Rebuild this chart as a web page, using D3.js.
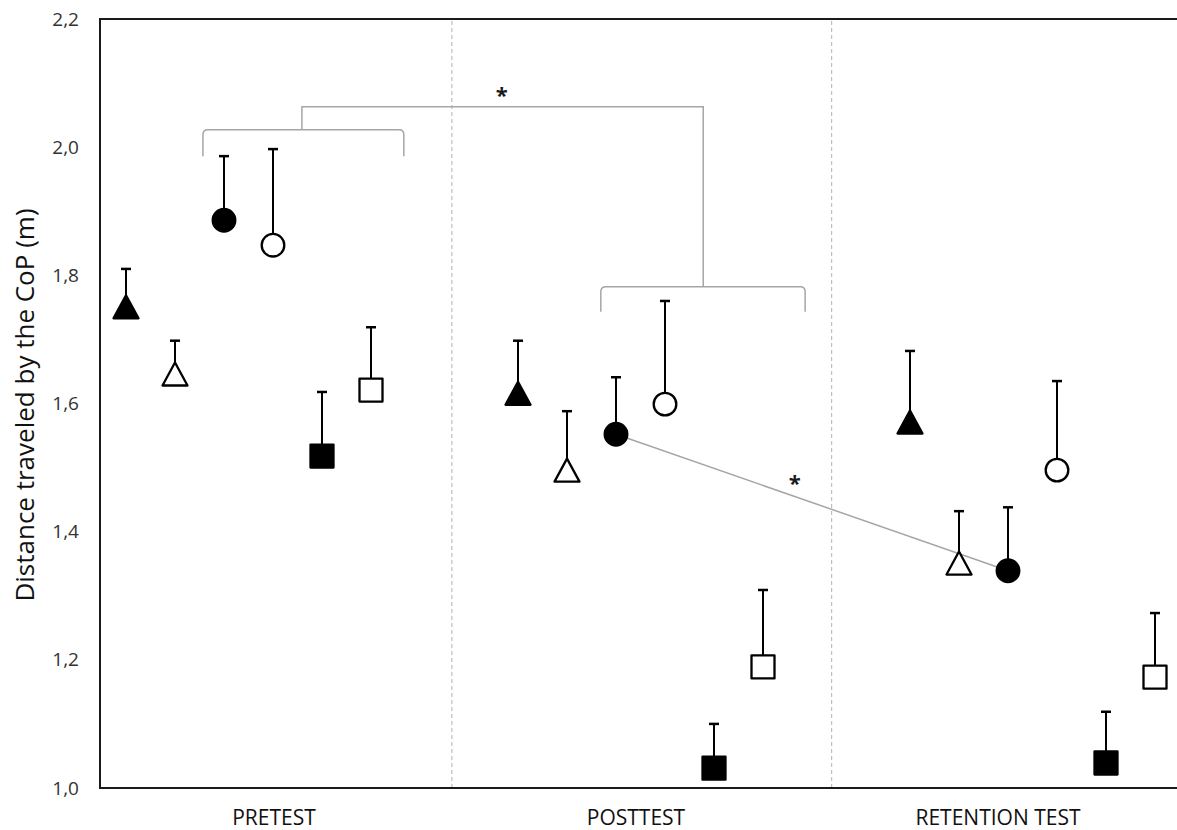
<!DOCTYPE html>
<html>
<head>
<meta charset="utf-8">
<script src="https://cdn.jsdelivr.net/npm/d3@7"></script>
<style>
  body { margin: 0; background: #fff; }
  text { font-family: "Open Sans", "Noto Sans", sans-serif; }
</style>
</head>
<body>
<div class="chart"></div>
<script>
var groups = ["PRETEST", "POSTTEST", "RETENTION TEST"];
var shapes = ["triangle", "triangle", "circle", "circle", "square", "square"];
var filled = [true, false, true, false, true, false];

// mean and upper end of the error bar, one array per test
var pretestMean = [1.751, 1.646, 1.886, 1.847, 1.518, 1.621];
var pretestUpper = [1.810, 1.698, 1.986, 1.997, 1.618, 1.719];
var posttestMean = [1.616, 1.496, 1.552, 1.599, 1.031, 1.189];
var posttestUpper = [1.698, 1.588, 1.641, 1.760, 1.100, 1.309];
var retentionMean = [1.571, 1.351, 1.339, 1.496, 1.039, 1.173];
var retentionUpper = [1.682, 1.432, 1.438, 1.635, 1.119, 1.273];
var yTicks = [1.0, 1.2, 1.4, 1.6, 1.8, 2.0, 2.2];

var means = [pretestMean, posttestMean, retentionMean],
    uppers = [pretestUpper, posttestUpper, retentionUpper];

var W = 1177, H = 830;
var plotLeft = 100, plotTop = 19, plotBottom = 788;

var svg = d3.select(".chart").append("svg")
    .attr("width", W)
    .attr("height", H);

// position slot: 6 markers per test, 2 empty slots between tests
var x = d3.scaleLinear().domain([0, 21]).range([126, 1155]);
var y = d3.scaleLinear().domain([1.0, 2.2]).range([plotBottom, plotTop]);
var xLabel = d3.scalePoint().domain(groups).range([274, 998]);

var points = [];
means.forEach(function (arr, g) {
    arr.forEach(function (v, i) {
        points.push({ g: g, i: i, slot: g * 8 + i, mean: v, upper: uppers[g][i] });
    });
});

// dashed separators
svg.selectAll("line.sep")
    .data([6.65, 14.4])
    .enter().append("line")
    .attr("x1", function (d) { return x(d); })
    .attr("x2", function (d) { return x(d); })
    .attr("y1", plotTop + 2)
    .attr("y2", plotBottom)
    .attr("stroke", "#bfbfbf")
    .attr("stroke-width", 1.2)
    .attr("stroke-dasharray", "4,3");

// y tick labels
var yAxis = d3.axisLeft(y).tickValues(yTicks).tickSize(0).tickPadding(21)
    .tickFormat(function (d) { return d3.format(".1f")(d).replace(".", ","); });
var ya = svg.append("g").attr("transform", "translate(" + plotLeft + ",0)").call(yAxis);
ya.select(".domain").remove();
ya.selectAll("text")
    .style("font-size", "19px")
    .style("fill", "#333")
    .style("font-family", "'Open Sans', sans-serif");

// frame: left, top, bottom
svg.append("path")
    .attr("d", "M" + W + "," + plotTop + "H" + plotLeft + "V" + plotBottom + "H" + W)
    .attr("fill", "none")
    .attr("stroke", "#1a1a1a")
    .attr("stroke-width", 2);

// category labels
svg.selectAll("text.cat")
    .data(groups)
    .enter().append("text")
    .attr("class", "cat")
    .attr("x", function (d) { return xLabel(d); })
    .attr("y", 825)
    .attr("text-anchor", "middle")
    .attr("font-size", 21)
    .attr("fill", "#111")
    .text(function (d) { return d; });

// y title
svg.append("text")
    .attr("transform", "translate(34,405) rotate(-90)")
    .attr("text-anchor", "middle")
    .attr("font-size", 26)
    .attr("fill", "#111")
    .text("Distance traveled by the CoP (m)");

// significance annotations
var grey = "#a6a6a6";
function bracket(x1, x2, yTop, yLeg) {
    var r = 5;
    return "M" + x(x1) + "," + y(yLeg) +
        "V" + (y(yTop) + r) +
        "Q" + x(x1) + "," + y(yTop) + " " + (x(x1) + r) + "," + y(yTop) +
        "H" + (x(x2) - r) +
        "Q" + x(x2) + "," + y(yTop) + " " + x(x2) + "," + (y(yTop) + r) +
        "V" + y(yLeg);
}
var ann = svg.append("g").attr("fill", "none").attr("stroke", grey).attr("stroke-width", 1.5);
ann.append("path").attr("d", bracket(1.57, 5.67, 2.027, 1.986));
ann.append("path").attr("d", bracket(9.69, 13.86, 1.782, 1.743));
ann.append("path").attr("d",
    "M" + x(3.59) + "," + y(2.027) + "V" + y(2.063) + "H" + x(11.78) + "V" + y(1.782));

var a = points.filter(function (p) { return p.g == 1 && p.i == 2; })[0],
    b = points.filter(function (p) { return p.g == 2 && p.i == 2; })[0];
ann.append("line")
    .attr("x1", x(a.slot)).attr("y1", y(a.mean))
    .attr("x2", x(b.slot)).attr("y2", y(b.mean));

svg.selectAll("text.star")
    .data([[7.67, 2.086], [13.65, 1.481]])
    .enter().append("text")
    .attr("x", function (d) { return x(d[0]); })
    .attr("y", function (d) { return y(d[1]) + 11; })
    .attr("text-anchor", "middle")
    .attr("font-size", 22)
    .attr("font-weight", "bold")
    .attr("fill", "#1a1a1a")
    .text("*");

// error bars (upper only)
var eb = svg.append("g").attr("stroke", "#000");
eb.selectAll("line.stem")
    .data(points).enter().append("line")
    .attr("x1", function (d) { return x(d.slot); })
    .attr("x2", function (d) { return x(d.slot); })
    .attr("y1", function (d) { return y(d.mean); })
    .attr("y2", function (d) { return y(d.upper); })
    .attr("stroke-width", 2);
eb.selectAll("line.cap")
    .data(points).enter().append("line")
    .attr("x1", function (d) { return x(d.slot) - 5; })
    .attr("x2", function (d) { return x(d.slot) + 5; })
    .attr("y1", function (d) { return y(d.upper); })
    .attr("y2", function (d) { return y(d.upper); })
    .attr("stroke-width", 2.5);

// markers
function markerPath(shape) {
    if (shape == "triangle") return "M0,-11.5L12.5,11.5L-12.5,11.5Z";
    if (shape == "square") return "M-11.5,-11.5H11.5V11.5H-11.5Z";
    return d3.arc()({ innerRadius: 0, outerRadius: 11.3, startAngle: 0, endAngle: 2 * Math.PI });
}
svg.append("g").selectAll("path")
    .data(points).enter().append("path")
    .attr("transform", function (d) { return "translate(" + x(d.slot) + "," + y(d.mean) + ")"; })
    .attr("d", function (d) { return markerPath(shapes[d.i]); })
    .attr("fill", function (d) { return filled[d.i] ? "#000" : "#fff"; })
    .attr("stroke", "#000")
    .attr("stroke-width", 2.3)
    .attr("stroke-linejoin", "round");
</script>
</body>
</html>
